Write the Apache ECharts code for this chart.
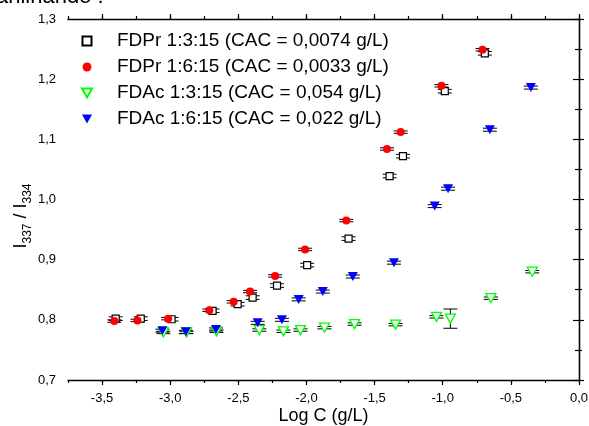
<!DOCTYPE html>
<html>
<head>
<meta charset="utf-8">
<script src="https://cdn.jsdelivr.net/npm/echarts@6/dist/echarts.min.js"></script>
<style>html,body{margin:0;padding:0;background:#fff;}#c{width:589px;height:426px;}</style>
</head>
<body>
<div id="c"></div>
<script>
// ---- data ----
const names = ['FDPr 1:3:15 (CAC = 0,0074 g/L)', 'FDPr 1:6:15 (CAC = 0,0033 g/L)', 'FDAc 1:3:15 (CAC = 0,054 g/L)', 'FDAc 1:6:15 (CAC = 0,022 g/L)'];
const sqX = [-3.40, -3.216, -2.99, -2.689, -2.505, -2.395, -2.216, -1.995, -1.691, -1.390, -1.292, -0.985, -0.691];
const sqY = [0.802, 0.802, 0.801, 0.815, 0.826, 0.837, 0.857, 0.891, 0.935, 1.039, 1.072, 1.180, 1.243];
const sqE = [0.003, 0.003, 0.003, 0.003, 0.003, 0.003, 0.003, 0.003, 0.003, 0.003, 0.003, 0.003, 0.003];
const redX = [-3.41, -3.24, -3.015, -2.713, -2.534, -2.414, -2.230, -2.010, -1.708, -1.409, -1.309, -1.010, -0.708];
const redY = [0.798, 0.799, 0.802, 0.816, 0.830, 0.847, 0.873, 0.917, 0.965, 1.084, 1.112, 1.189, 1.249];
const redE = [0.002, 0.002, 0.002, 0.002, 0.002, 0.002, 0.002, 0.002, 0.002, 0.002, 0.002, 0.002, 0.002];
const grX = [-3.05, -2.88, -2.66, -2.346, -2.169, -2.044, -1.868, -1.647, -1.346, -1.046, -0.944, -0.647, -0.343];
const grY = [0.779, 0.779, 0.781, 0.783, 0.781, 0.783, 0.787, 0.793, 0.792, 0.805, 0.802, 0.836, 0.880];
const grE = [0.002, 0.002, 0.002, 0.002, 0.002, 0.002, 0.002, 0.002, 0.002, 0.002, 0.016, 0.002, 0.002];
const blX = [-3.057, -2.885, -2.664, -2.358, -2.180, -2.057, -1.880, -1.660, -1.358, -1.059, -0.961, -0.654, -0.353];
const blY = [0.782, 0.780, 0.784, 0.795, 0.800, 0.834, 0.847, 0.872, 0.895, 0.989, 1.018, 1.116, 1.186];
const blE = [0.0025, 0.0025, 0.0025, 0.0025, 0.0025, 0.0025, 0.0025, 0.0025, 0.0025, 0.0025, 0.0025, 0.0025, 0.0025];
const xMajorTicks = [-3.5, -3.0, -2.5, -2.0, -1.5, -1.0, -0.5, 0.0];
const xMin = -3.75, xMax = 0, yMin = 0.7, yMax = 1.3;

// ---- helpers ----
function pts(xs, ys, es) { return xs.map((x, i) => [x, ys[i], es ? es[i] : 0]); }
function errSeries(xs, ys, es, color) {
  return {
    type: 'custom', silent: true, z: 1,
    data: pts(xs, ys, es),
    renderItem: function (params, api) {
      const x = api.value(0), y = api.value(1), e = api.value(2);
      const t = api.coord([x, y + e]), b = api.coord([x, y - e]);
      const hw = 7;
      const st = { stroke: color, lineWidth: 1 };
      return {
        type: 'group', children: [
          { type: 'line', shape: { x1: t[0], y1: t[1], x2: b[0], y2: b[1] }, style: st },
          { type: 'line', shape: { x1: t[0] - hw, y1: t[1], x2: t[0] + hw, y2: t[1] }, style: st },
          { type: 'line', shape: { x1: b[0] - hw, y1: b[1], x2: b[0] + hw, y2: b[1] }, style: st }
        ]
      };
    }
  };
}
const triDown = 'path://M0,0 L10,0 L5,9 Z';
const square = 'path://M0,0 L10,0 L10,10 L0,10 Z';
const fmt = v => (Math.abs(v) < 1e-9 ? '0,0' : v.toFixed(1).replace('.', ','));

const lineSt = { color: '#000', width: 1.3 };
const tickSt = { color: '#000', width: 1.2 };
function xAx(pos, major, withLabels) {
  const a = {
    type: 'value', min: xMin, max: xMax, interval: 0.25, position: pos,
    splitLine: { show: false },
    axisLine: { show: !major, lineStyle: lineSt },
    axisTick: major ? { show: true, length: 5, lineStyle: tickSt, customValues: xMajorTicks }
                    : { show: true, length: 3, lineStyle: tickSt },
    axisLabel: { show: false }
  };
  if (withLabels) {
    a.axisLabel = { show: true, fontFamily: 'Liberation Sans', fontSize: 13, color: '#000', margin: 12,
      customValues: xMajorTicks, formatter: fmt };
    a.name = 'Log C (g/L)'; a.nameLocation = 'middle'; a.nameGap = 27; a.nameMoveOverlap = false;
    a.nameTextStyle = { fontFamily: 'Liberation Sans', fontSize: 18, color: '#000' };
  }
  return a;
}
function yAx(pos, labels) {
  return {
    type: 'value', min: yMin, max: yMax, interval: 0.1, position: pos,
    splitLine: { show: false },
    axisLine: { lineStyle: lineSt },
    axisTick: { show: true, length: labels ? 6 : 5, lineStyle: tickSt },
    minorTick: { show: true, splitNumber: 2, length: labels ? 4 : 3, lineStyle: tickSt },
    axisLabel: labels ? { fontFamily: 'Liberation Sans', fontSize: 13, color: '#000', margin: 12,
      formatter: v => v.toFixed(1).replace('.', ',') } : { show: false }
  };
}

const chart = echarts.init(document.getElementById('c'), null, { renderer: 'canvas' });
chart.setOption({
  animation: false,
  backgroundColor: '#fff',
  grid: { left: 68, right: 10, top: 19, bottom: 46, containLabel: false, outerBoundsMode: 'none' },
  xAxis: [xAx('bottom', false, false), xAx('bottom', true, true), xAx('top', false, false), xAx('top', true, false)],
  yAxis: [yAx('left', true), yAx('right', false)],
  legend: {
    data: names, orient: 'vertical', left: 76, top: 26,
    itemWidth: 50, itemHeight: 9, itemGap: 6,
    textStyle: { fontFamily: 'Liberation Sans', fontSize: 19, color: '#000', lineHeight: 20 },
    selectedMode: false
  },
  graphic: [
    { type: 'text', left: -4, top: -14, style: { text: 'anilhando :', font: '22px "Liberation Sans"', fill: '#000' } },
    {
      type: 'text', x: 21, y: 216, rotation: Math.PI / 2,
      style: {
        text: '{n|I}{s|337}{n| / I}{s|334}', align: 'center', verticalAlign: 'middle',
        rich: {
          n: { fontFamily: 'Liberation Sans', fontSize: 18, fill: '#000', lineHeight: 25, verticalAlign: 'middle' },
          s: { fontFamily: 'Liberation Sans', fontSize: 12, fill: '#000', lineHeight: 25, verticalAlign: 'bottom' }
        }
      }
    }
  ],
  series: [
    errSeries(sqX, sqY, sqE, '#000'),
    { name: names[0], type: 'scatter', z: 2, symbol: square, symbolSize: 7,
      itemStyle: { color: '#fff', borderColor: '#000', borderWidth: 1.2, opacity: 1 },
      data: pts(sqX, sqY) },
    errSeries(redX, redY, redE, '#000'),
    { name: names[1], type: 'scatter', z: 3, symbol: 'circle', symbolSize: 8,
      itemStyle: { color: '#ff0000', opacity: 1 },
      data: pts(redX, redY) },
    errSeries(grX, grY, grE, '#000'),
    { name: names[2], type: 'scatter', z: 4, symbol: triDown, symbolSize: [10, 9],
      itemStyle: { color: '#fff', borderColor: '#00ff00', borderWidth: 1.3, opacity: 1 },
      data: pts(grX, grY) },
    errSeries(blX, blY, blE, '#000'),
    { name: names[3], type: 'scatter', z: 5, symbol: triDown, symbolSize: [10, 9],
      itemStyle: { color: '#0000ff', opacity: 1 },
      data: pts(blX, blY) }
  ]
});
</script>
</body>
</html>
